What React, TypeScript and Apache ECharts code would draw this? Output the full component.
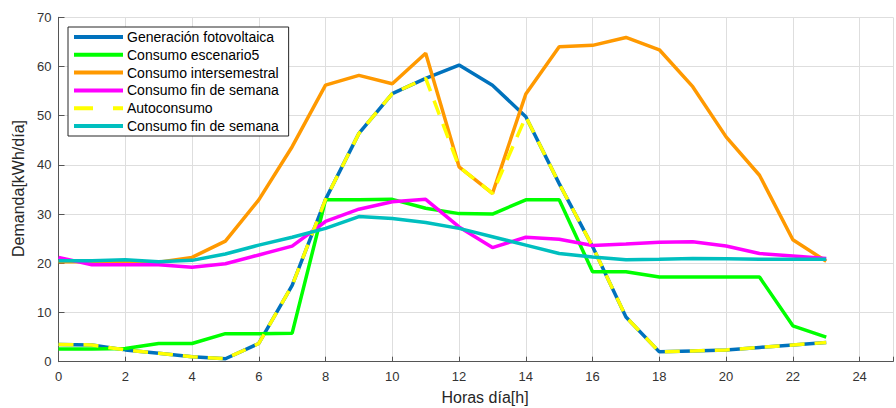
import React, { useEffect, useRef } from "react";
import * as echarts from "echarts";

const hours = [0, 1, 2, 3, 4, 5, 6, 7, 8, 9, 10, 11, 12, 13, 14, 15, 16, 17, 18, 19, 20, 21, 22, 23];
const generacionFV = [3.5, 3.4, 2.4, 1.7, 1.0, 0.6, 3.7, 15.5, 33.0, 46.4, 54.5, 57.6, 60.3, 56.2, 49.8, 36.2, 23.4, 9.1, 2.0, 2.2, 2.4, 2.9, 3.4, 3.9];
const consumoEscenario5 = [2.6, 2.6, 2.7, 3.7, 3.7, 5.7, 5.7, 5.8, 32.9, 32.9, 33.0, 31.2, 30.1, 30.0, 32.9, 32.9, 18.3, 18.3, 17.2, 17.2, 17.2, 17.2, 7.3, 5.0];
const consumoIntersemestral = [20.3, 20.3, 20.4, 20.2, 21.2, 24.5, 32.9, 43.7, 56.2, 58.2, 56.5, 62.7, 39.6, 34.2, 54.4, 64.0, 64.3, 65.9, 63.4, 55.9, 45.7, 37.9, 24.8, 20.4];
const consumoFinSemana = [21.2, 19.7, 19.7, 19.7, 19.2, 19.9, 21.7, 23.5, 28.5, 31.0, 32.5, 33.0, 27.4, 23.2, 25.3, 24.9, 23.6, 23.9, 24.3, 24.4, 23.5, 22.0, 21.5, 21.0];
const autoconsumo = [3.5, 3.4, 2.4, 1.7, 1.0, 0.6, 3.7, 15.5, 33.0, 46.4, 54.5, 57.6, 39.6, 34.2, 49.8, 36.2, 23.4, 9.1, 2.0, 2.2, 2.4, 2.9, 3.4, 3.9];
const consumoFinSemana2 = [20.5, 20.5, 20.7, 20.3, 20.6, 21.9, 23.7, 25.3, 27.1, 29.5, 29.1, 28.3, 27.1, 25.4, 23.7, 22.0, 21.3, 20.7, 20.8, 21.0, 20.9, 20.8, 20.8, 20.8];

const seriesNames = [
  "Generación fotovoltaica",
  "Consumo escenario5",
  "Consumo intersemestral",
  "Consumo fin de semana",
  "Autoconsumo",
  "Consumo fin de semana ",
];
const seriesValues = [generacionFV, consumoEscenario5, consumoIntersemestral, consumoFinSemana, autoconsumo, consumoFinSemana2];
const seriesColors = ["#0072BD", "#00FF00", "#FF9900", "#FF00FF", "#FFFF00", "#00BFBF"];

const FONT = "'Liberation Sans', Arial, Helvetica, sans-serif";

export default function App() {
  const ref = useRef<HTMLDivElement>(null);
  useEffect(() => {
    if (!ref.current) return;
    const chart = echarts.init(ref.current, null, { renderer: "svg" });
    const series = seriesNames.map((name, i) => ({
      name,
      type: "line",
      data: hours.map((h, j) => [h, seriesValues[i][j]]),
      symbol: "none",
      showSymbol: false,
      lineStyle: {
        color: seriesColors[i],
        width: 3.5,
        type: name === "Autoconsumo" ? [15, 10] : "solid",
        cap: "butt",
      },
      itemStyle: { color: seriesColors[i] },
      emphasis: { disabled: true },
    }));
    chart.setOption({
      animation: false,
      textStyle: { fontFamily: FONT },
      grid: { left: 58.5, right: -15.5, top: 17.3, bottom: 46.3, containLabel: false },
      xAxis: {
        type: "value",
        min: 0,
        max: 25,
        interval: 2,
        axisLine: { show: true, lineStyle: { color: "#555555", width: 1 } },
        axisTick: { show: true, inside: true, length: 5, lineStyle: { color: "#555555" } },
        axisLabel: {
          color: "#333333",
          fontSize: 13,
          margin: 8,
          fontFamily: FONT,
          formatter: (v: number) => (v % 2 === 0 ? String(v) : ""),
        },
        splitLine: { show: true, lineStyle: { color: "#dedede", width: 1 } },
      },
      yAxis: {
        type: "value",
        min: 0,
        max: 70,
        interval: 10,
        axisLine: { show: true, lineStyle: { color: "#555555", width: 1 } },
        axisTick: { show: true, inside: true, length: 6, lineStyle: { color: "#555555" } },
        axisLabel: { color: "#333333", fontSize: 13, margin: 7, fontFamily: FONT },
        splitLine: { show: true, lineStyle: { color: "#dedede", width: 1 } },
      },
      legend: {
        orient: "vertical",
        left: 68,
        top: 27,
        itemWidth: 49,
        itemHeight: 14,
        itemGap: 3.8,
        padding: [3, 6, 3, 4],
        borderColor: "#262626",
        borderWidth: 1,
        backgroundColor: "#ffffff",
        borderRadius: 0,
        selectedMode: false,
        textStyle: { fontSize: 14, color: "#000000", fontFamily: FONT, padding: [0, 0, 0, -1] },
        itemStyle: { opacity: 0, borderWidth: 0 },
        lineStyle: { width: 4 },
        data: seriesNames.map((n) =>
          n === "Autoconsumo" ? { name: n, lineStyle: { type: [19, 20], width: 4 } } : { name: n }
        ),
      },
      graphic: [
        {
          type: "text",
          x: 18,
          y: 188.5,
          rotation: Math.PI / 2,
          style: {
            text: "Demanda[kWh/día]",
            fontSize: 16,
            fontFamily: FONT,
            fill: "#262626",
            align: "center",
            verticalAlign: "middle",
          },
        },
        {
          type: "text",
          x: 485,
          y: 397,
          style: {
            text: "Horas día[h]",
            fontSize: 16,
            fontFamily: FONT,
            fill: "#262626",
            align: "center",
            verticalAlign: "middle",
          },
        },
      ],
      series,
    });
    return () => chart.dispose();
  }, []);
  return (
    <div
      ref={ref}
      style={{ position: "fixed", left: 0, top: 0, width: 896, height: 408, background: "#ffffff" }}
    />
  );
}
